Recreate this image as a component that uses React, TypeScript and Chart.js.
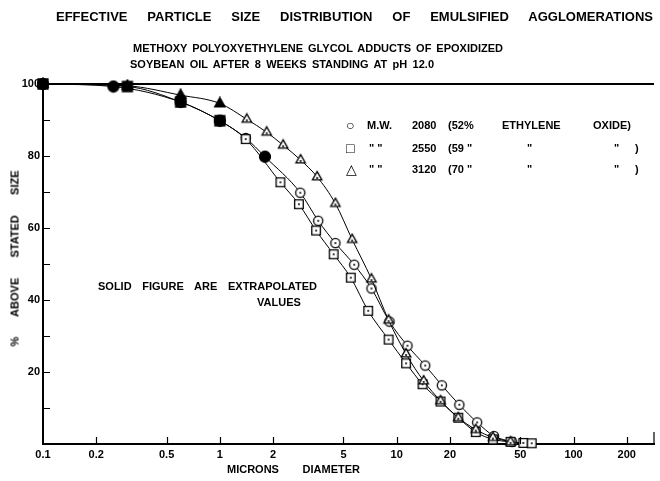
import React, { useEffect, useRef } from 'react';
import { Chart, registerables } from 'chart.js';

Chart.register(...registerables);

// ---- axis ticks ----
const xTickValues = [0.1, 0.2, 0.5, 1, 2, 5, 10, 20, 50, 100, 200];
const xTickLabels = ['0.1', '0.2', '0.5', '1', '2', '5', '10', '20', '50', '100', '200'];
const yLabelled = [20, 40, 60, 80, 100];

// ---- M.W. 2080 (52% ethylene oxide) : circles ----
const circleX = [0.1, 0.25, 0.6, 1.0, 1.4, 1.8, 2.85, 3.6, 4.5, 5.75, 7.2, 9.1, 11.5, 14.5, 18, 22.6, 28.5, 35.5, 45];
const circleY = [100, 99.3, 95, 89.8, 85, 79.8, 69.8, 62, 55.8, 49.8, 43.2, 34, 27.3, 21.8, 16.3, 10.9, 6, 2.2, 0.6];
const circleSolid = [true, true, true, true, false, true, false, false, false, false, false, false, false, false, false, false, false, false, false];

// ---- M.W. 2550 (59%) : squares ----
const squareX = [0.1, 0.3, 0.6, 1.0, 1.4, 2.2, 2.8, 3.5, 4.4, 5.5, 6.9, 9.0, 11.3, 14, 17.7, 22.3, 28, 35, 44, 52, 58];
const squareY = [100, 99.3, 95, 89.8, 84.7, 72.7, 66.6, 59.3, 52.7, 46.2, 37, 29, 22.4, 16.6, 11.8, 7.3, 3.3, 1.3, 0.6, 0.3, 0.2];
const squareSolid = [true, true, true, true, false, false, false, false, false, false, false, false, false, false, false, false, false, false, false, false, false];

// ---- M.W. 3120 (70%) : triangles ----
const triX = [0.1, 0.3, 0.6, 1.0, 1.42, 1.84, 2.28, 2.86, 3.55, 4.5, 5.6, 7.2, 9.0, 11.3, 14.2, 17.7, 22.3, 28, 35, 44];
const triY = [100, 99.5, 96.9, 94.6, 90.2, 86.6, 83, 78.9, 74.2, 66.8, 56.8, 45.8, 34.4, 25, 17.5, 12, 7.3, 4, 1.8, 0.6];
const triSolid = [true, true, true, true, false, false, false, false, false, false, false, false, false, false, false, false, false, false, false, false];

const FONT = "'Liberation Sans', Arial, 'DejaVu Sans', sans-serif";

function makeMarker(kind: string, solid: boolean): HTMLCanvasElement {
  const c = document.createElement('canvas');
  const s = 14;
  c.width = s;
  c.height = s;
  const g = c.getContext('2d') as CanvasRenderingContext2D;
  g.lineWidth = 1.3;
  g.strokeStyle = '#000';
  g.fillStyle = solid ? '#000' : '#fff';
  const m = s / 2;
  g.beginPath();
  if (kind === 'circle') {
    g.arc(m, m, solid ? 5.5 : 4.6, 0, Math.PI * 2);
  } else if (kind === 'square') {
    const h = solid ? 5 : 4.3;
    g.rect(m - h, m - h, 2 * h, 2 * h);
  } else {
    const r = solid ? 6 : 5.4;
    g.moveTo(m, m - r);
    g.lineTo(m + r * 0.87, m + r * 0.55);
    g.lineTo(m - r * 0.87, m + r * 0.55);
    g.closePath();
  }
  g.fill();
  g.stroke();
  if (!solid) {
    g.fillStyle = '#000';
    g.beginPath();
    g.arc(m, m + (kind === 'triangle' ? 1 : 0), 1, 0, Math.PI * 2);
    g.fill();
  }
  return c;
}

const framePlugin = {
  id: 'frameTicks',
  afterDraw(chart: any) {
    const { ctx, chartArea: a, scales } = chart;
    ctx.save();
    ctx.strokeStyle = '#000';
    ctx.lineWidth = 2;
    ctx.beginPath();
    ctx.moveTo(a.left - 1, a.top);
    ctx.lineTo(a.right, a.top);
    ctx.stroke();
    ctx.lineWidth = 1.2;
    ctx.beginPath();
    for (let v = 10; v < 100; v += 10) {
      const py = Math.round(scales.y.getPixelForValue(v)) + 0.5;
      ctx.moveTo(a.left, py);
      ctx.lineTo(a.left + 7, py);
    }
    xTickValues.slice(1).forEach((v) => {
      const px = Math.round(scales.x.getPixelForValue(v)) + 0.5;
      ctx.moveTo(px, a.bottom);
      ctx.lineTo(px, a.bottom - 7);
    });
    ctx.moveTo(a.right, a.bottom);
    ctx.lineTo(a.right, a.bottom - 12);
    ctx.stroke();
    ctx.restore();
  },
};

const abs = (x: number, y: number, size: number, extra: React.CSSProperties = {}): React.CSSProperties => ({
  position: 'absolute',
  left: x,
  top: y - size / 2,
  fontFamily: FONT,
  fontWeight: 'bold',
  fontSize: size,
  lineHeight: `${size}px`,
  whiteSpace: 'nowrap',
  color: '#000',
  ...extra,
});

const justify = (x: number, y: number, w: number, size: number): React.CSSProperties => ({
  ...abs(x, y, size),
  width: w,
  whiteSpace: 'normal',
  textAlign: 'justify',
  textAlignLast: 'justify' as any,
  height: size,
  overflow: 'visible',
});

export default function App() {
  const ref = useRef<HTMLCanvasElement | null>(null);

  useEffect(() => {
    document.body.style.margin = '0';
    const canvas = ref.current;
    if (!canvas) return;
    const mk = {
      c0: makeMarker('circle', false), c1: makeMarker('circle', true),
      s0: makeMarker('square', false), s1: makeMarker('square', true),
      t0: makeMarker('triangle', false), t1: makeMarker('triangle', true),
    };
    const build = (xs: number[], ys: number[]) => xs.map((x, i) => ({ x, y: ys[i] }));
    const common = {
      borderColor: '#000',
      borderWidth: 1,
      fill: false,
      cubicInterpolationMode: 'monotone' as const,
      clip: false as any,
      pointRadius: 5,
    };
    const chart = new Chart(canvas, {
      type: 'line',
      data: {
        datasets: [
          { ...common, label: '3120', data: build(triX, triY), pointStyle: (c: any) => (triSolid[c.dataIndex] ? mk.t1 : mk.t0) },
          { ...common, label: '2550', data: build(squareX, squareY), pointStyle: (c: any) => (squareSolid[c.dataIndex] ? mk.s1 : mk.s0) },
          { ...common, label: '2080', data: build(circleX, circleY), pointStyle: (c: any) => (circleSolid[c.dataIndex] ? mk.c1 : mk.c0) },
        ] as any,
      },
      options: {
        animation: false,
        responsive: false,
        devicePixelRatio: 1,
        layout: { padding: { top: 84, right: 2, left: 0, bottom: 0 } },
        plugins: { legend: { display: false }, title: { display: false }, tooltip: { enabled: false } },
        scales: {
          x: {
            type: 'logarithmic',
            min: 0.1,
            max: 285,
            afterBuildTicks: (s: any) => { s.ticks = xTickValues.map((v) => ({ value: v })); },
            afterFit: (s: any) => { s.height = 37; },
            ticks: {
              autoSkip: false,
              maxRotation: 0,
              padding: 4,
              color: '#000',
              font: { family: FONT, weight: 'bold', size: 11 },
              callback: (v: any) => { const i = xTickValues.indexOf(Number(v)); return i >= 0 ? xTickLabels[i] : ''; },
            },
            grid: { display: true, drawOnChartArea: false, drawTicks: false },
            border: { display: true, color: '#000', width: 2 },
          },
          y: {
            type: 'linear',
            min: 0,
            max: 100,
            afterFit: (s: any) => { s.width = 43; },
            ticks: {
              stepSize: 10,
              padding: 3,
              color: '#000',
              font: { family: FONT, weight: 'bold', size: 11 },
              callback: (v: any) => (yLabelled.includes(Number(v)) ? String(v) : ''),
            },
            grid: { display: true, drawOnChartArea: false, drawTicks: false },
            border: { display: true, color: '#000', width: 2 },
          },
        },
      } as any,
      plugins: [framePlugin],
    });
    return () => chart.destroy();
  }, []);

  return (
    <div style={{ position: 'relative', width: 660, height: 481, background: '#fff', overflow: 'hidden' }}>
      <canvas ref={ref} width={660} height={481} style={{ position: 'absolute', left: 0, top: 0, width: 660, height: 481 }} />
      <div style={justify(56, 16, 597, 13)}>EFFECTIVE PARTICLE SIZE DISTRIBUTION OF EMULSIFIED AGGLOMERATIONS</div>
      <div style={justify(133, 48, 370, 11)}>METHOXY POLYOXYETHYLENE GLYCOL ADDUCTS OF EPOXIDIZED</div>
      <div style={justify(130, 64, 304, 11)}>SOYBEAN OIL AFTER 8 WEEKS STANDING AT pH 12.0</div>

      <div style={abs(346, 125, 14)}>○</div>
      <div style={abs(367, 125, 11)}>M.W.</div>
      <div style={abs(412, 125, 11)}>2080</div>
      <div style={abs(448, 125, 11)}>(52%</div>
      <div style={abs(502, 125, 11)}>ETHYLENE</div>
      <div style={abs(593, 125, 11)}>OXIDE)</div>

      <div style={abs(346, 148, 14)}>□</div>
      <div style={abs(369, 148, 11)}>" "</div>
      <div style={abs(412, 148, 11)}>2550</div>
      <div style={abs(448, 148, 11)}>(59 "</div>
      <div style={abs(527, 148, 11)}>"</div>
      <div style={abs(614, 148, 11)}>"</div>
      <div style={abs(635, 148, 11)}>)</div>

      <div style={abs(346, 169, 14)}>△</div>
      <div style={abs(369, 169, 11)}>" "</div>
      <div style={abs(412, 169, 11)}>3120</div>
      <div style={abs(448, 169, 11)}>(70 "</div>
      <div style={abs(527, 169, 11)}>"</div>
      <div style={abs(614, 169, 11)}>"</div>
      <div style={abs(635, 169, 11)}>)</div>

      <div style={justify(98, 286, 219, 11)}>SOLID FIGURE ARE EXTRAPOLATED</div>
      <div style={abs(257, 302, 11)}>VALUES</div>

      <div style={justify(227, 469, 133, 11)}>MICRONS DIAMETER</div>
      <div
        style={{
          ...abs(15, 258, 11),
          width: 176,
          whiteSpace: 'normal',
          textAlign: 'justify',
          textAlignLast: 'justify' as any,
          height: 11,
          left: 15 - 88,
          transform: 'rotate(-90deg)',
          transformOrigin: '88px 5.5px',
        }}
      >
        % ABOVE STATED SIZE
      </div>
    </div>
  );
}
